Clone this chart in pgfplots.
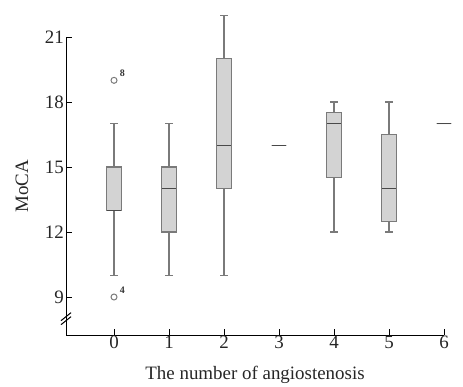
\documentclass[border=0pt]{standalone}
\usepackage{fontspec}
\setmainfont{Liberation Serif}
\usepackage{pgfplots}
\pgfplotsset{compat=1.18}
\usepgfplotslibrary{statistics}
\definecolor{boxfill}{HTML}{D3D3D3}
\definecolor{boxline}{HTML}{7A7A7A}
\begin{document}
\begin{tikzpicture}
\begin{axis}[name=ax, scale only axis, width=378bp, height=298bp,
 xmin=-0.873, xmax=6, ymin=7.246, ymax=21,
 axis x line*=bottom, axis y line*=left, clip=false,
 x axis line style={-}, y axis line style={-},
 xtick={0,1,2,3,4,5,6}, ytick={9,12,15,18,21},
 tick align=inside, major tick length=6bp,
 tick style={black, line width=1pt}, axis line style={black, line width=1pt},
 /pgf/number format/assume math mode=true,
 ticklabel style={font=\fontsize{19}{21}\selectfont, text=black!85},
 xticklabel style={inner sep=1bp},
 yticklabel style={inner sep=2bp},
 label style={font=\fontsize{19}{21}\selectfont, text=black!85},
 xlabel={The number of angiostenosis}, ylabel={MoCA},
 xlabel style={at={(axis description cs:0.5,0)}, anchor=center, yshift=-40bp},
 ylabel style={at={(axis description cs:0,0.5)}, anchor=center, rotate=0, yshift=44bp},
 boxplot/draw direction=y,
 boxplot/box extend=0.27, boxplot/whisker extend=0.145,
 boxplot/every median/.style={draw=boxline!60!black, line width=1.1pt},
]
\addplot[draw=boxline, fill=boxfill, line width=1.1pt, mark=o, mark size=3bp,
  mark options={fill=white, draw=boxline, line width=1pt},
  boxplot prepared={lower whisker=10, lower quartile=13, median=13, upper quartile=15, upper whisker=17, draw position=0}]
  coordinates {(0,19) (0,9)};
\addplot[draw=boxline, fill=boxfill, line width=1.1pt,
  boxplot prepared={lower whisker=10, lower quartile=12, median=14, upper quartile=15, upper whisker=17, draw position=1}]
  coordinates {};
\addplot[draw=boxline, fill=boxfill, line width=1.1pt,
  boxplot prepared={lower whisker=10, lower quartile=14, median=16, upper quartile=20, upper whisker=22, draw position=2}]
  coordinates {};
\addplot[draw=boxline, fill=boxfill, line width=1.1pt,
  boxplot prepared={lower whisker=16, lower quartile=16, median=16, upper quartile=16, upper whisker=16, draw position=3, whisker extend=0}]
  coordinates {};
\addplot[draw=boxline, fill=boxfill, line width=1.1pt,
  boxplot prepared={lower whisker=12, lower quartile=14.5, median=17, upper quartile=17.5, upper whisker=18, draw position=4}]
  coordinates {};
\addplot[draw=boxline, fill=boxfill, line width=1.1pt,
  boxplot prepared={lower whisker=12, lower quartile=12.5, median=14, upper quartile=16.5, upper whisker=18, draw position=5}]
  coordinates {};
\addplot[draw=boxline, fill=boxfill, line width=1.1pt,
  boxplot prepared={lower whisker=17, lower quartile=17, median=17, upper quartile=17, upper whisker=17, draw position=6, whisker extend=0}]
  coordinates {};
\node[font=\fontsize{10}{11}\bfseries\selectfont, text=black!80] at (axis cs:0.15,19.35) {8};
\node[font=\fontsize{10}{11}\bfseries\selectfont, text=black!80] at (axis cs:0.15,9.3) {4};
\draw[line width=1pt] ([xshift=-5bp,yshift=-6bp]axis cs:-0.873,8.0) -- ++(10bp,8bp);
\draw[line width=1pt] ([xshift=-5bp,yshift=-2bp]axis cs:-0.873,8.0) -- ++(10bp,8bp);
\end{axis}
\pgfresetboundingbox
\path ([xshift=-66bp,yshift=-51bp]ax.south west) rectangle ([xshift=19bp,yshift=37bp]ax.north east);
\end{tikzpicture}
\end{document}
